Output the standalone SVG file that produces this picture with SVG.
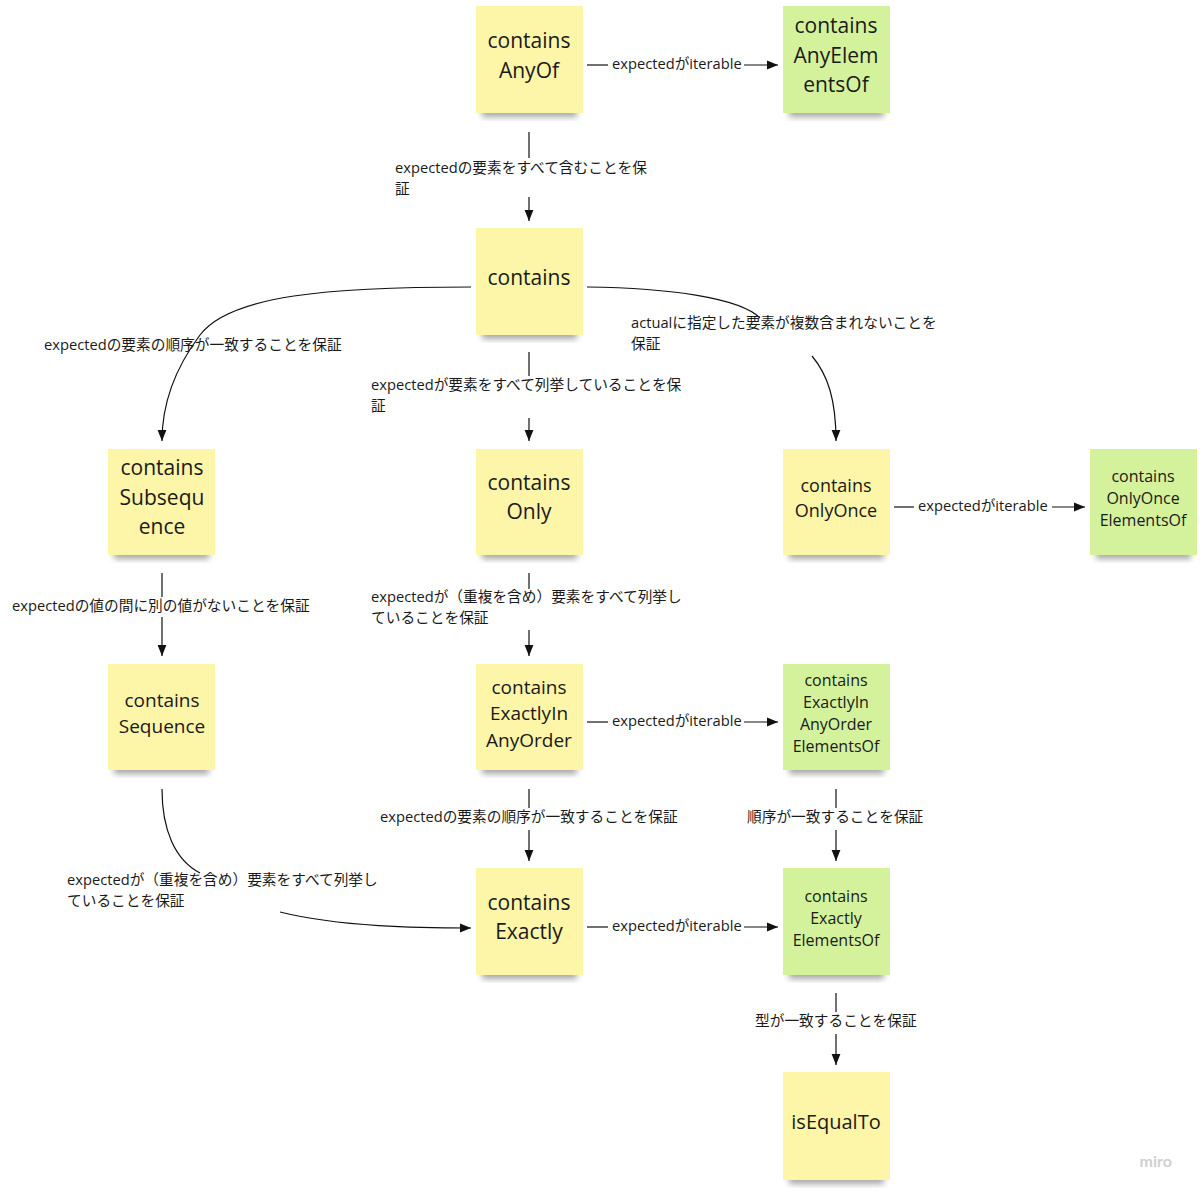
<svg xmlns="http://www.w3.org/2000/svg" width="1200" height="1195" viewBox="0 0 1200 1195">
<defs>
<marker id="ah" viewBox="0 0 10 10" refX="10" refY="5" markerWidth="11" markerHeight="11" markerUnits="userSpaceOnUse" orient="auto"><path d="M0,1 L10,5 L0,9 z" fill="#111"/></marker>
<filter id="sh" x="-20%" y="-20%" width="140%" height="160%"><feGaussianBlur stdDeviation="3"/></filter>
</defs>
<style>
.y{fill:#fdf5a8}.g{fill:#d4f29c}
.s{fill:#000;opacity:0.35;filter:url(#sh)}
.t{font-family:"Open Sans","Noto Sans","Noto Sans CJK JP",sans-serif;fill:#1a1a1a;text-anchor:middle}
.b{font-size:21px}.m{font-size:16px}
.l{font-family:"Open Sans","Noto Sans","Noto Sans CJK JP",sans-serif;font-size:14.7px;fill:#1a1a1a}
.c{fill:none;stroke:#111;stroke-width:1.2}
.a{marker-end:url(#ah)}
</style>
<rect width="1200" height="1195" fill="#fff"/>
<g id="connectors">
<line class="c" x1="587" y1="65" x2="608" y2="65"/><line class="c a" x1="744" y1="65" x2="778" y2="65"/>
<text class="l" x="612" y="69">expectedがiterable</text>
<line class="c" x1="529" y1="132" x2="529" y2="158"/><line class="c a" x1="529" y1="197" x2="529" y2="221"/>
<text class="l" x="395" y="173">expectedの要素をすべて含むことを保</text><text class="l" x="395" y="194">証</text>
<path class="c a" d="M471,287 C330,287 230,295 200,335 C170,375 162,410 162,441"/>
<text class="l" x="44" y="350">expectedの要素の順序が一致することを保証</text>
<line class="c" x1="529" y1="352" x2="529" y2="376"/><line class="c a" x1="529" y1="418" x2="529" y2="441"/>
<text class="l" x="371" y="390">expectedが要素をすべて列挙していることを保</text><text class="l" x="371" y="411">証</text>
<path class="c" d="M587,287 C670,288 740,298 760,318"/>
<path class="c a" d="M812,356 C828,375 836,400 836,441"/>
<text class="l" x="631" y="328">actualに指定した要素が複数含まれないことを</text><text class="l" x="631" y="349">保証</text>
<line class="c" x1="894" y1="507" x2="914" y2="507"/><line class="c a" x1="1052" y1="507" x2="1085" y2="507"/>
<text class="l" x="918" y="511">expectedがiterable</text>
<line class="c" x1="162" y1="573" x2="162" y2="597"/><line class="c a" x1="162" y1="617" x2="162" y2="656"/>
<text class="l" x="12" y="611">expectedの値の間に別の値がないことを保証</text>
<line class="c" x1="529" y1="573" x2="529" y2="589"/><line class="c a" x1="529" y1="630" x2="529" y2="656"/>
<text class="l" x="371" y="602">expectedが（重複を含め）要素をすべて列挙し</text><text class="l" x="371" y="623">ていることを保証</text>
<line class="c" x1="587" y1="722" x2="608" y2="722"/><line class="c a" x1="744" y1="722" x2="778" y2="722"/>
<text class="l" x="612" y="726">expectedがiterable</text>
<line class="c" x1="529" y1="789" x2="529" y2="808"/><line class="c a" x1="529" y1="830" x2="529" y2="861"/>
<text class="l" x="380" y="822">expectedの要素の順序が一致することを保証</text>
<line class="c" x1="836" y1="789" x2="836" y2="808"/><line class="c a" x1="836" y1="830" x2="836" y2="861"/>
<text class="l" x="747" y="822">順序が一致することを保証</text>
<path class="c" d="M162,789 C162,830 175,860 200,873"/>
<path class="c a" d="M280,912 C340,927 420,928 471,928"/>
<text class="l" x="67" y="885">expectedが（重複を含め）要素をすべて列挙し</text><text class="l" x="67" y="906">ていることを保証</text>
<line class="c" x1="587" y1="927" x2="608" y2="927"/><line class="c a" x1="744" y1="927" x2="778" y2="927"/>
<text class="l" x="612" y="931">expectedがiterable</text>
<line class="c" x1="836" y1="993" x2="836" y2="1012"/><line class="c a" x1="836" y1="1034" x2="836" y2="1065"/>
<text class="l" x="755" y="1026">型が一致することを保証</text>
</g>
<g id="n1"><rect class="s" x="482" y="107" width="95" height="10"/><rect class="y" x="476" y="6" width="107" height="107"/><text class="t b" x="529" y="48">contains</text><text class="t b" x="529" y="78">AnyOf</text></g>
<g id="n2"><rect class="s" x="789" y="107" width="95" height="10"/><rect class="g" x="783" y="6" width="107" height="107"/><text class="t b" x="836" y="33">contains</text><text class="t b" x="836" y="63">AnyElem</text><text class="t b" x="836" y="92">entsOf</text></g>
<g id="n3"><rect class="s" x="482" y="329" width="95" height="10"/><rect class="y" x="476" y="228" width="107" height="107"/><text class="t b" x="529" y="285">contains</text></g>
<g id="n4"><rect class="s" x="114" y="549" width="95" height="10"/><rect class="y" x="108" y="449" width="107" height="106"/><text class="t b" x="162" y="475">contains</text><text class="t b" x="162" y="505">Subsequ</text><text class="t b" x="162" y="534">ence</text></g>
<g id="n5"><rect class="s" x="482" y="549" width="95" height="10"/><rect class="y" x="476" y="449" width="107" height="106"/><text class="t b" x="529" y="490">contains</text><text class="t b" x="529" y="519">Only</text></g>
<g id="n6"><rect class="s" x="789" y="549" width="95" height="10"/><rect class="y" x="783" y="449" width="107" height="106"/><text class="t" x="836" y="492" font-size="18">contains</text><text class="t" x="836" y="517" font-size="18">OnlyOnce</text></g>
<g id="n7"><rect class="s" x="1096" y="549" width="95" height="10"/><rect class="g" x="1090" y="449" width="107" height="106"/><text class="t m" x="1143" y="482">contains</text><text class="t m" x="1143" y="504">OnlyOnce</text><text class="t m" x="1143" y="526">ElementsOf</text></g>
<g id="n8"><rect class="s" x="114" y="764" width="95" height="10"/><rect class="y" x="108" y="664" width="107" height="106"/><text class="t" x="162" y="707" font-size="19">contains</text><text class="t" x="162" y="733" font-size="19">Sequence</text></g>
<g id="n9"><rect class="s" x="482" y="764" width="95" height="10"/><rect class="y" x="476" y="664" width="107" height="106"/><text class="t" x="529" y="694" font-size="19">contains</text><text class="t" x="529" y="720" font-size="19">ExactlyIn</text><text class="t" x="529" y="747" font-size="19">AnyOrder</text></g>
<g id="n10"><rect class="s" x="789" y="764" width="95" height="10"/><rect class="g" x="783" y="664" width="107" height="106"/><text class="t m" x="836" y="686">contains</text><text class="t m" x="836" y="708">ExactlyIn</text><text class="t m" x="836" y="730">AnyOrder</text><text class="t m" x="836" y="752">ElementsOf</text></g>
<g id="n11"><rect class="s" x="482" y="969" width="95" height="10"/><rect class="y" x="476" y="868" width="107" height="107"/><text class="t b" x="529" y="910">contains</text><text class="t b" x="529" y="939">Exactly</text></g>
<g id="n12"><rect class="s" x="789" y="969" width="95" height="10"/><rect class="g" x="783" y="868" width="107" height="107"/><text class="t m" x="836" y="902">contains</text><text class="t m" x="836" y="924">Exactly</text><text class="t m" x="836" y="946">ElementsOf</text></g>
<g id="n13"><rect class="s" x="789" y="1174" width="95" height="10"/><rect class="y" x="783" y="1072" width="107" height="108"/><text class="t" x="836" y="1129" font-size="20">isEqualTo</text></g>
<text x="1172" y="1167" font-family="Lato,'Open Sans',sans-serif" font-size="16" font-weight="bold" fill="#d0d0d0" text-anchor="end">miro</text>
</svg>
